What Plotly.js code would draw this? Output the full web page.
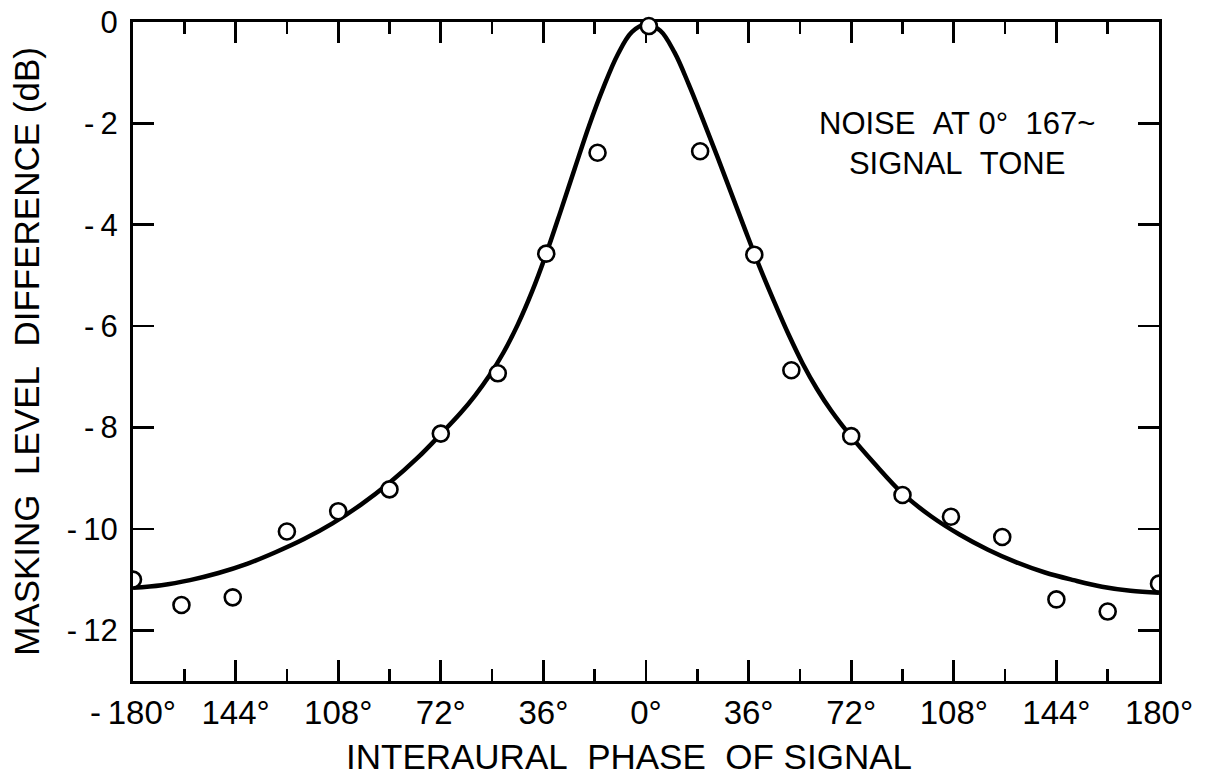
<!DOCTYPE html>
<html>
<head>
<meta charset="utf-8">
<script src="https://cdn.plot.ly/plotly-3.0.1.min.js"></script>
<style>
  html, body { margin: 0; padding: 0; background: #fff; }
  #chart { width: 1215px; height: 782px; }
</style>
</head>
<body>
<div id="chart"></div>
<script>
// Measured masking level differences (dB) against the interaural phase of the signal
const phaseDeg = [-180, -163, -145, -126, -108, -90, -72, -52, -35, -17, 1, 19, 38, 51, 72, 90, 107, 125, 144, 162, 180];
const mldDb    = [-11.0, -11.5, -11.35, -10.05, -9.65, -9.22, -8.12, -6.93, -4.57, -2.58, -0.08,
                  -2.55, -4.59, -6.87, -8.17, -9.33, -9.76, -10.16, -11.39, -11.63, -11.08];

// Smooth fitted curve through the measurements
const curvePhase = [-180, -170, -160, -150, -140, -130, -120, -110, -100, -90, -80, -72, -65, -60, -55, -50,
                    -45, -40, -35, -30, -25, -20, -15, -10, -5, 0,
                    5, 10, 15, 20, 25, 30, 35, 40, 45, 50, 55, 60, 65, 72, 80, 90, 100, 110, 120, 130,
                    140, 150, 160, 170, 180];
const curveDb    = [-11.16, -11.11, -11.01, -10.87, -10.69, -10.46, -10.20, -9.89, -9.52, -9.09, -8.59,
                    -8.13, -7.71, -7.37, -6.98, -6.52, -5.97, -5.32, -4.57, -3.74, -2.89, -2.05, -1.30,
                    -0.65, -0.20, -0.05,
                    -0.17, -0.60, -1.23, -1.93, -2.65, -3.39, -4.13, -4.85, -5.52, -6.16, -6.74, -7.24,
                    -7.67, -8.18, -8.70, -9.30, -9.75, -10.11, -10.41, -10.66, -10.86, -11.01, -11.14,
                    -11.22, -11.26];

// Axis ticks and titles
const xTickVals = [-180, -144, -108, -72, -36, 0, 36, 72, 108, 144, 180];
const xTickText = ['-\u2009180°', '144°', '108°', '72°', '36°', '0°', '36°', '72°', '108°', '144°', '180°'];
const xMinorVals = [-162, -126, -90, -54, -18, 18, 54, 90, 126, 162];
const yTickVals = [0, -2, -4, -6, -8, -10, -12];
const yTickText = ['0', '-\u20092', '-\u20094', '-\u20096', '-\u20098', '-\u200910', '-\u200912'];
const xTitle = 'INTERAURAL\u00a0\u00a0PHASE\u00a0\u00a0OF\u00a0SIGNAL';
const yTitle = 'MASKING\u00a0\u00a0LEVEL\u00a0\u00a0DIFFERENCE\u00a0(dB)';
const noteText = 'NOISE\u00a0\u00a0AT\u00a00°\u00a0\u00a0167~<br>SIGNAL\u00a0\u00a0TONE';

const FONT = '"Liberation Sans", Arial, sans-serif';

// Points at the ends of the range sit on the frame and are clipped by it
const isEdge = phaseDeg.map(p => Math.abs(p) >= 180);
const pick = (arr, keep) => arr.filter((_, i) => isEdge[i] === keep);

const markerStyle = { symbol: 'circle', size: 16, color: '#fff', line: { color: '#000', width: 2.6 } };

const traces = [
  {
    x: curvePhase, y: curveDb, type: 'scatter', mode: 'lines',
    line: { color: '#000', width: 4.5, shape: 'spline', smoothing: 1 },
    hoverinfo: 'skip'
  },
  {
    x: pick(phaseDeg, false), y: pick(mldDb, false), type: 'scatter', mode: 'markers',
    marker: markerStyle, cliponaxis: false
  },
  {
    x: pick(phaseDeg, true), y: pick(mldDb, true), type: 'scatter', mode: 'markers',
    marker: markerStyle, cliponaxis: true
  }
];

const layout = {
  width: 1215, height: 782,
  margin: { l: 133, r: 56, t: 22, b: 101 },
  paper_bgcolor: '#fff', plot_bgcolor: '#fff',
  showlegend: false,
  font: { family: FONT, color: '#000' },
  xaxis: {
    range: [-180, 180],
    tickmode: 'array', tickvals: xTickVals, ticktext: xTickText,
    ticks: 'inside', ticklen: 21, tickwidth: 2.6, tickcolor: '#000',
    minor: { tickvals: xMinorVals, ticks: 'inside', ticklen: 12, tickwidth: 2.6, tickcolor: '#000', showgrid: false },
    showline: true, linewidth: 3, linecolor: '#000', mirror: 'ticks',
    showgrid: false, zeroline: false, layer: 'below traces',
    tickfont: { family: FONT, size: 33, color: '#000' },
    ticklabelstandoff: 0,
    automargin: false
  },
  yaxis: {
    range: [-13, 0],
    tickmode: 'array', tickvals: yTickVals, ticktext: yTickText,
    ticks: 'inside', ticklen: 21, tickwidth: 2.6, tickcolor: '#000',
    showline: true, linewidth: 3, linecolor: '#000', mirror: 'ticks',
    showgrid: false, zeroline: false, layer: 'below traces',
    tickfont: { family: FONT, size: 31, color: '#000' },
    ticklabelstandoff: 6,
    title: { text: yTitle, font: { family: FONT, size: 35, color: '#000' }, standoff: 17 },
    automargin: false
  },
  annotations: [
    {
      text: xTitle, xref: 'paper', yref: 'paper', x: 0.4834, y: -0.1153,
      xanchor: 'center', yanchor: 'middle', showarrow: false,
      font: { family: FONT, size: 35, color: '#000' }
    },
    {
      x: 109, y: -2.39, xref: 'x', yref: 'y',
      text: noteText,
      showarrow: false, align: 'center',
      font: { family: FONT, size: 31, color: '#000' }
    }
  ]
};

Plotly.newPlot('chart', traces, layout, { displayModeBar: false, staticPlot: true });
</script>
</body>
</html>
